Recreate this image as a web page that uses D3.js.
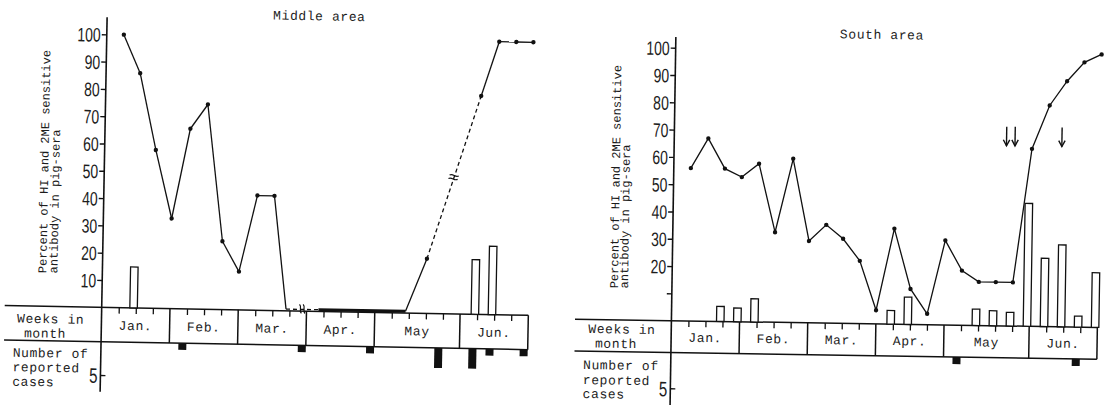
<!DOCTYPE html>
<html>
<head>
<meta charset="utf-8">
<script src="https://cdn.jsdelivr.net/npm/d3@7"></script>
<style>
  html, body { margin: 0; padding: 0; background: #fff; }
  svg { display: block; }
  .mono { font-family: "Liberation Mono", "DejaVu Sans Mono", monospace; fill: #1c1c1c; }
</style>
</head>
<body>
<svg id="fig" width="1107" height="405"></svg>
<script>
// ---- Calendar of the survey ----
const months = ["Jan.", "Feb.", "Mar.", "Apr.", "May", "Jun."];
const weeksPerMonth = [4, 4, 4, 4, 5, 4];

// ---- Percent axis ----
const percentTicks = [10, 20, 30, 40, 50, 60, 70, 80, 90, 100];
const middleTickLabels = ["10", "20", "30", "40", "50", "60", "70", "80", "90", "100"];
const southTickLabels = ["", "20", "30", "40", "50", "60", "70", "80", "90", "100"];
const caseTicks = [5];

// ---- Middle area ----
const middleWeeks   = [1, 2, 3, 4, 5, 6, 7, 8, 9, 10, 19, 22, 23, 24, 25];
const middlePercent = [100, 86, 58, 33, 66, 75, 25, 14, 42, 42, 20, 80, 100, 100, 100];
const middleZeroRun = [10.8, 17.8];              // weeks with no positive sera
const middleZeroLevel = 0.6;
const middleGapSpans = [[10.8, 12.7], [19, 22]]; // interrupted (dashed) stretches
const middleBarWeeks  = [2, 22, 23];
const middleBarValues = [15, 20, 25];
const middleCaseWeeks  = [5, 12, 16, 20, 22, 23, 25];
const middleCaseCounts = [1, 1, 1, 3, 3, 1, 1];

// ---- South area ----
const southWeeks   = [1, 2, 3, 4, 5, 6, 7, 8, 9, 10, 11, 12, 13, 14, 15, 16, 17, 18, 19, 20, 21, 22, 23, 24, 25];
const southPercent = [56, 67, 56, 53, 58, 33, 60, 30, 36, 31, 23, 5, 35, 13, 4, 31, 20, 16, 16, 16, 65, 81, 90, 97, 100];
const southBarWeeks  = [3, 4, 5, 13, 14, 18, 19, 20, 21, 22, 23, 24, 25];
const southBarValues = [5.5, 5, 8.5, 5, 10, 6, 5.5, 5, 45, 25, 30, 4, 20];
const southCaseWeeks  = [17, 24];
const southCaseCounts = [1, 1];
const southArrowWeeks = [19.5, 20, 22.75];
const arrowSpan = [73, 66];

const totalWeeks = d3.sum(weeksPerMonth);
const monthEdges = [0, ...d3.cumsum(weeksPerMonth)];

const svg = d3.select("#fig");

function monoText(g, size) {
  return g.append("text").attr("class", "mono")
    .attr("font-size", size).attr("letter-spacing", size === 13 ? 0.6 : 0);
}

function drawPanel(p) {
  const g = svg.append("g")
    .attr("transform", `translate(${p.origin[0]},${p.origin[1]}) rotate(${p.angle})`);

  const x = d3.scaleLinear().domain([0, totalWeeks]).range([0, p.width]);
  const y = d3.scaleLinear().domain([0, 100]).range([0, -p.h100]);
  const c = d3.scaleLinear().domain([0, 5]).range([p.bandH, p.case5]);

  // title
  monoText(g, 13).attr("x", p.title[0]).attr("y", p.title[1]).text(p.titleText);

  // vertical axis title (two lines)
  const yl = ["Percent of HI and 2ME sensitive", "antibody in pig-sera"];
  yl.forEach((t, i) => {
    g.append("text").attr("class", "mono").attr("font-size", 12)
      .attr("transform", `translate(${p.ylab[i]},${p.ylabY}) rotate(-90)`)
      .text(t);
  });

  // week band
  const band = g.append("g").attr("stroke", "#111").attr("stroke-width", 1.5);
  band.append("line").attr("x1", p.bandLeft).attr("x2", x(totalWeeks)).attr("y1", 0).attr("y2", 0);
  band.append("line").attr("x1", p.bandLeft).attr("x2", x(totalWeeks)).attr("y1", p.bandH).attr("y2", p.bandH);
  monthEdges.slice(1).forEach(w => {
    band.append("line").attr("x1", x(w)).attr("x2", x(w)).attr("y1", 0).attr("y2", p.bandH);
  });

  // week ticks hanging from the band top
  const weekTicks = d3.range(1, totalWeeks).filter(w => !monthEdges.includes(w));
  g.append("g")
    .call(d3.axisBottom(x).tickValues(weekTicks).tickSize(6).tickFormat(""))
    .call(s => s.select(".domain").remove())
    .call(s => s.selectAll("line").attr("stroke", "#111").attr("stroke-width", 1.3));

  // month names
  months.forEach((m, i) => {
    monoText(g, 13).attr("text-anchor", "middle")
      .attr("x", x((monthEdges[i] + monthEdges[i + 1]) / 2))
      .attr("y", p.bandH / 2 + 5)
      .text(m);
  });

  // row captions
  p.captions.forEach(cp => {
    monoText(g, 13).attr("x", cp[0]).attr("y", cp[1]).text(cp[2]);
  });

  // vertical axis line
  g.append("line").attr("x1", 0).attr("x2", 0).attr("y1", p.axisTop).attr("y2", p.axisBottom)
    .attr("stroke", "#111").attr("stroke-width", 1.6);

  // percent ticks
  const sx = 0.72;
  g.append("g")
    .call(d3.axisLeft(y).tickValues(percentTicks).tickSize(5).tickFormat((d, i) => p.tickLabels[i]))
    .call(s => s.select(".domain").remove())
    .call(s => s.selectAll("line").attr("stroke", "#111").attr("stroke-width", 1.4))
    .call(s => s.selectAll("text")
      .attr("font-family", "'Liberation Sans', Arial, sans-serif")
      .attr("font-size", 19.5).attr("fill", "#1c1c1c")
      .attr("text-anchor", "end")
      .attr("transform", `scale(${sx},1)`)
      .attr("x", -6 / sx).attr("dy", "0.36em"));

  // case-count tick
  g.append("g")
    .call(d3.axisRight(c).tickValues(caseTicks).tickSize(5).tickFormat(d3.format("d")))
    .call(s => s.select(".domain").remove())
    .call(s => s.selectAll("line").attr("stroke", "#111").attr("stroke-width", 1.4))
    .call(s => s.selectAll("text")
      .attr("font-family", "'Liberation Sans', Arial, sans-serif")
      .attr("font-size", 21).attr("fill", "#1c1c1c")
      .attr("text-anchor", "end")
      .attr("transform", `scale(${sx},1)`)
      .attr("x", -3 / sx).attr("dy", "0.36em"));

  // open bars above the band
  g.append("g").selectAll("rect")
    .data(d3.zip(p.barWeeks, p.barValues)).join("rect")
    .attr("x", d => x(d[0]) - 6).attr("width", 7.5)
    .attr("y", d => y(d[1])).attr("height", d => -y(d[1]))
    .attr("fill", "#fff").attr("stroke", "#111").attr("stroke-width", 1.3);

  // reported cases below the band
  g.append("g").selectAll("rect")
    .data(d3.zip(p.caseWeeks, p.caseCounts)).join("rect")
    .attr("x", d => x(d[0]) - 8).attr("width", 8)
    .attr("y", p.bandH).attr("height", d => c(d[1]) - p.bandH)
    .attr("fill", "#111");

  return { g, x, y };
}

// ---------- Middle area ----------
const mid = drawPanel({
  origin: [101.7, 307.3], angle: 1.07, width: 426.7, h100: 273, bandH: 34.4, case5: 67.7,
  axisTop: -290, axisBottom: 84.4, bandLeft: -97,
  title: [166, -291], titleText: "Middle area",
  ylab: [-56, -45], ylabY: -33,
  captions: [[-84.4, 16.9, "Weeks in"], [-77.2, 31.4, "month"],
             [-88.1, 51.1, "Number of"], [-88.1, 65.5, "reported"], [-88.1, 80, "cases"]],
  tickLabels: middleTickLabels,
  barWeeks: middleBarWeeks, barValues: middleBarValues,
  caseWeeks: middleCaseWeeks, caseCounts: middleCaseCounts
});

(function () {
  const { g, x, y } = mid;
  const measured = d3.zip(middleWeeks, middlePercent).map(d => ({ w: d[0], v: d[1], dot: true }));
  const zeroPts = [middleZeroRun[0], middleGapSpans[0][1], middleZeroRun[1]]
    .map(w => ({ w, v: middleZeroLevel, dot: false }));
  const pts = measured.concat(zeroPts).sort((a, b) => a.w - b.w);

  const inGap = (a, b) => middleGapSpans.some(s => a.w >= s[0] && b.w <= s[1]);
  const inZero = (a, b) => a.w >= middleZeroRun[0] && b.w <= middleZeroRun[1];
  const line = d3.line().x(d => x(d.w)).y(d => y(d.v));

  const lines = g.append("g").attr("fill", "none").attr("stroke", "#111");
  for (let i = 0; i < pts.length - 1; i++) {
    const a = pts[i], b = pts[i + 1];
    const path = lines.append("path").attr("d", line([a, b]));
    if (inGap(a, b)) path.attr("stroke-width", 1.3).attr("stroke-dasharray", "4,3");
    else if (inZero(a, b)) path.attr("stroke-width", 3);
    else path.attr("stroke-width", 1.3);
  }

  // break marks in the interrupted stretches
  middleGapSpans.forEach(s => {
    const a = pts.find(d => d.w === s[0]), b = pts.find(d => d.w === s[1]);
    const mx = (x(a.w) + x(b.w)) / 2, my = (y(a.v) + y(b.v)) / 2;
    const ang = Math.atan2(y(b.v) - y(a.v), x(b.w) - x(a.w)) * 180 / Math.PI;
    const mark = g.append("g").attr("transform", `translate(${mx},${my}) rotate(${ang})`)
      .attr("fill", "none").attr("stroke", "#111").attr("stroke-width", 1.2);
    [-1.8, 1.8].forEach(o => {
      mark.append("path").attr("d", `M${o - 1},${-5} C${o + 2},${-2} ${o - 2},${1} ${o + 1},${4}`);
    });
  });

  g.append("g").selectAll("circle").data(measured).join("circle")
    .attr("cx", d => x(d.w)).attr("cy", d => y(d.v)).attr("r", 2.2).attr("fill", "#111");
})();

// ---------- South area ----------
const south = drawPanel({
  origin: [671.4, 320.7], angle: 0.9, width: 426, h100: 273, bandH: 31.8, case5: 67.6,
  axisTop: -283.7, axisBottom: 95, bandLeft: -96.4,
  title: [164, -285], titleText: "South area",
  ylab: [-54, -44], ylabY: -31.5,
  captions: [[-82.9, 13.6, "Weeks in"], [-76, 28, "month"],
             [-87.6, 49.7, "Number of"], [-87.6, 64.7, "reported"], [-87.6, 78.6, "cases"]],
  tickLabels: southTickLabels,
  barWeeks: southBarWeeks, barValues: southBarValues,
  caseWeeks: southCaseWeeks, caseCounts: southCaseCounts
});

(function () {
  const { g, x, y } = south;
  const pts = d3.zip(southWeeks, southPercent).map(d => ({ w: d[0], v: d[1] }));
  g.append("path").datum(pts)
    .attr("d", d3.line().x(d => x(d.w)).y(d => y(d.v)))
    .attr("fill", "none").attr("stroke", "#111").attr("stroke-width", 1.3);
  g.append("g").selectAll("circle").data(pts).join("circle")
    .attr("cx", d => x(d.w)).attr("cy", d => y(d.v)).attr("r", 2.2).attr("fill", "#111");

  // arrows
  const ar = g.append("g").attr("fill", "none").attr("stroke", "#111").attr("stroke-width", 1.4);
  southArrowWeeks.forEach(w => {
    const ax = x(w), y0 = y(arrowSpan[0]), y1 = y(arrowSpan[1]);
    ar.append("path").attr("d", `M${ax},${y0} L${ax},${y1}`);
    ar.append("path").attr("d", `M${ax - 3.2},${y1 - 6} L${ax},${y1} L${ax + 3.2},${y1 - 6}`);
  });
})();
</script>
</body>
</html>
